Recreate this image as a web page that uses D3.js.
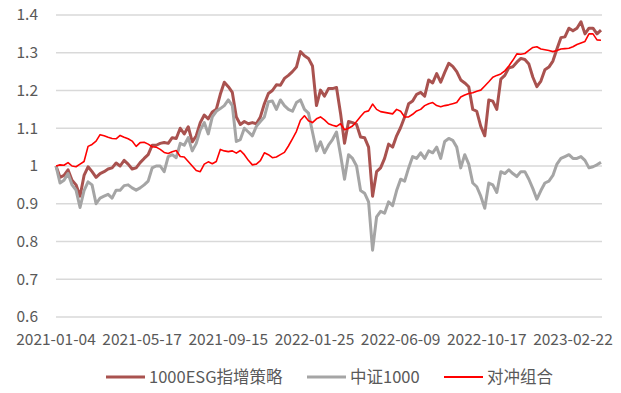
<!DOCTYPE html>
<html>
<head>
<meta charset="utf-8">
<script src="https://cdn.jsdelivr.net/npm/d3@7"></script>
<style>
  html, body { margin: 0; padding: 0; background: #fff; }
  svg text { font-family: "Noto Sans CJK SC", "Noto Sans", sans-serif; fill: #595959; }
</style>
</head>
<body>
<svg id="chart" width="621" height="393"></svg>
<script>
// one sample every 4 trading days, starting 2021-01-04
const sampleStep = 4;

const esgValues = [
    1.000, 0.970, 0.975, 0.990, 0.962, 0.950, 0.920, 0.975, 0.998, 0.985,
    0.970, 0.980, 0.985, 0.992, 0.995, 1.008, 1.000, 1.015, 1.005, 0.992,
    0.995, 1.009, 1.020, 1.030, 1.055, 1.055, 1.060, 1.062, 1.060, 1.075,
    1.073, 1.100, 1.085, 1.104, 1.064, 1.080, 1.115, 1.135, 1.125, 1.143,
    1.150, 1.190, 1.222, 1.210, 1.195, 1.130, 1.110, 1.118, 1.112, 1.115,
    1.112, 1.130, 1.165, 1.192, 1.200, 1.215, 1.214, 1.232, 1.240, 1.250,
    1.262, 1.303, 1.292, 1.285, 1.265, 1.160, 1.201, 1.185, 1.205, 1.205,
    1.208, 1.140, 1.060, 1.118, 1.115, 1.110, 1.077, 1.075, 1.050, 0.920,
    0.985, 0.995, 1.020, 1.058, 1.050, 1.080, 1.102, 1.130, 1.165, 1.172,
    1.190, 1.195, 1.185, 1.228, 1.220, 1.245, 1.222, 1.248, 1.272, 1.264,
    1.250, 1.228, 1.220, 1.210, 1.150, 1.145, 1.105, 1.080, 1.175, 1.172,
    1.150, 1.230, 1.240, 1.260, 1.263, 1.275, 1.285, 1.282, 1.270, 1.235,
    1.210, 1.225, 1.255, 1.262, 1.278, 1.310, 1.340, 1.342, 1.365, 1.358,
    1.365, 1.382, 1.350, 1.365, 1.365, 1.350, 1.360
];

const csiValues = [
    1.000, 0.955, 0.962, 0.980, 0.950, 0.936, 0.890, 0.935, 0.958, 0.950,
    0.900, 0.915, 0.920, 0.925, 0.915, 0.936, 0.936, 0.948, 0.950, 0.942,
    0.936, 0.942, 0.950, 0.960, 0.995, 1.000, 1.000, 0.985, 1.025, 1.030,
    1.022, 1.060, 1.055, 1.075, 1.040, 1.060, 1.095, 1.115, 1.085, 1.130,
    1.145, 1.152, 1.160, 1.175, 1.160, 1.065, 1.070, 1.100, 1.090, 1.080,
    1.105, 1.118, 1.130, 1.170, 1.172, 1.150, 1.175, 1.160, 1.150, 1.145,
    1.168, 1.175, 1.150, 1.140, 1.090, 1.040, 1.064, 1.035, 1.055, 1.070,
    1.090, 1.030, 0.965, 1.030, 1.020, 1.000, 0.935, 0.928, 0.905, 0.777,
    0.865, 0.880, 0.875, 0.905, 0.895, 0.935, 0.965, 0.960, 0.995, 1.025,
    1.020, 1.035, 1.020, 1.040, 1.035, 1.050, 1.020, 1.065, 1.073, 1.068,
    1.050, 0.995, 1.030, 1.005, 0.955, 0.945, 0.920, 0.888, 0.955, 0.950,
    0.930, 0.985, 0.980, 0.990, 0.980, 0.972, 0.985, 0.985, 0.965, 0.940,
    0.912, 0.935, 0.955, 0.960, 0.975, 1.005, 1.020, 1.025, 1.030, 1.020,
    1.020, 1.025, 1.015, 0.995, 0.998, 1.003, 1.010
];

const hedgeValues = [
    1.000, 1.003, 1.002, 1.009, 1.000, 0.998, 1.005, 1.012, 1.052, 1.057,
    1.066, 1.083, 1.080, 1.076, 1.073, 1.072, 1.081, 1.076, 1.072, 1.066,
    1.052, 1.062, 1.063, 1.058, 1.051, 1.050, 1.044, 1.036, 1.033, 1.038,
    1.041, 1.025, 1.024, 1.012, 1.000, 0.988, 0.985, 1.005, 1.011, 1.006,
    1.012, 1.044, 1.040, 1.038, 1.040, 1.034, 1.041, 1.030, 1.015, 1.003,
    1.005, 1.014, 1.035, 1.030, 1.022, 1.024, 1.030, 1.036, 1.053, 1.072,
    1.092, 1.121, 1.133, 1.120, 1.115, 1.125, 1.130, 1.122, 1.112, 1.108,
    1.105, 1.112, 1.096, 1.100, 1.106, 1.118, 1.131, 1.143, 1.146, 1.164,
    1.150, 1.144, 1.142, 1.140, 1.138, 1.150, 1.145, 1.130, 1.130, 1.137,
    1.146, 1.150, 1.160, 1.165, 1.168, 1.160, 1.157, 1.160, 1.162, 1.165,
    1.168, 1.183, 1.188, 1.192, 1.194, 1.198, 1.201, 1.212, 1.223, 1.235,
    1.240, 1.244, 1.252, 1.265, 1.280, 1.297, 1.296, 1.298, 1.306, 1.314,
    1.316, 1.310, 1.308, 1.306, 1.303, 1.306, 1.310, 1.311, 1.312, 1.316,
    1.322, 1.326, 1.330, 1.350, 1.350, 1.334, 1.333
];

// category labels shown every 86 trading days
const tickLabels = ["2021-01-04", "2021-05-17", "2021-09-15", "2022-01-25", "2022-06-09", "2022-10-17", "2023-02-22"];
const tickEvery = 86;
const yTicks = [0.6, 0.7, 0.8, 0.9, 1.0, 1.1, 1.2, 1.3, 1.4];

const seriesNames = ["1000ESG指增策略", "中证1000", "对冲组合"];
const seriesColors = ["#A9524F", "#A5A5A5", "#FF0000"];
const seriesWidths = [3, 3, 1.6];

const svg = d3.select("#chart");
const margin = { left: 56, right: 20, top: 15, bottom: 76 };

const x = d3.scaleLinear()
    .domain([0, (esgValues.length - 1) * sampleStep])
    .range([margin.left, 601]);
const y = d3.scaleLinear()
    .domain([0.6, 1.4])
    .range([317, margin.top]);

// horizontal gridlines
svg.append("g")
    .selectAll("line")
    .data(yTicks)
    .join("line")
    .attr("x1", margin.left)
    .attr("x2", 602)
    .attr("y1", (d) => y(d))
    .attr("y2", (d) => y(d))
    .attr("stroke", "#D9D9D9")
    .attr("stroke-width", 1.3);

// y labels
svg.append("g")
    .selectAll("text")
    .data(yTicks)
    .join("text")
    .attr("x", 38)
    .attr("y", (d) => y(d))
    .attr("dy", "0.35em")
    .attr("text-anchor", "end")
    .attr("font-size", 15.5)
    .text((d) => (d === 1 ? "1" : d3.format(".1f")(d)));

// x labels
svg.append("g")
    .selectAll("text")
    .data(tickLabels)
    .join("text")
    .attr("x", (d, i) => x(i * tickEvery))
    .attr("y", 340)
    .attr("dy", "0.35em")
    .attr("text-anchor", "middle")
    .attr("font-size", 15.5)
    .text((d) => d);

const line = d3.line()
    .x((d, i) => x(i * sampleStep))
    .y((d) => y(d));

[esgValues, csiValues, hedgeValues].forEach(function (values, k) {
    svg.append("path")
        .datum(values)
        .attr("fill", "none")
        .attr("stroke", seriesColors[k])
        .attr("stroke-width", seriesWidths[k])
        .attr("stroke-linejoin", "round")
        .attr("d", line);
});

// legend
const legendItems = [
    { x: 106, textX: 149 },
    { x: 307, textX: 350 },
    { x: 444, textX: 487 }
];
const legend = svg.append("g");
legendItems.forEach(function (item, k) {
    legend.append("line")
        .attr("x1", item.x)
        .attr("x2", item.x + 39)
        .attr("y1", 377)
        .attr("y2", 377)
        .attr("stroke", seriesColors[k])
        .attr("stroke-width", k === 2 ? 2 : 3);
    legend.append("text")
        .attr("x", item.textX)
        .attr("y", 377)
        .attr("dy", "0.35em")
        .attr("font-size", 16.5)
        .text(seriesNames[k]);
});
</script>
</body>
</html>
